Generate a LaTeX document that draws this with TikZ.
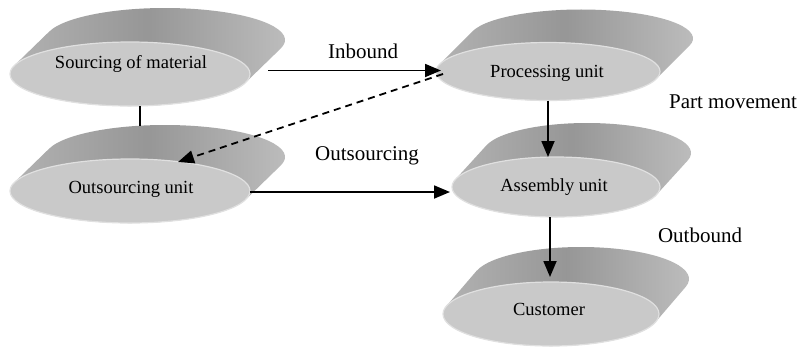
\documentclass[tikz,border=0pt]{standalone}
\usepackage{fontspec}
\setmainfont{Liberation Serif}
\usetikzlibrary{arrows.meta}
\tikzset{
  diskside/.style={left color=black!29, right color=black!25, middle color=black!41},
  diskfront/.style={fill=black!21, draw=black!12, line width=1.2bp},
  unittext/.style={font=\fontsize{18.5bp}{22bp}\selectfont, anchor=base, inner sep=0pt},
  flowlabel/.style={font=\fontsize{21bp}{25bp}\selectfont, anchor=base, inner sep=0pt},
  flow/.style={line width=1.8bp, -{Triangle[length=16bp,width=13bp]}},
  link/.style={line width=1.8bp},
  dashflow/.style={flow, dash pattern=on 7bp off 5bp},
}
% #1 name, #2 cx, #3 cy, #4 rx, #5 ry, #6 dx, #7 dy (image coordinates)
\newcommand{\diskunit}[7]{%
  \pgfmathsetmacro{\tang}{atan(#5*#6/(#4*abs(#7)))}%
  \shade[diskside]
    ({#2+#6+#4*cos(180+\tang)},{#3+#7+#5*sin(180+\tang)})
    arc[start angle={180+\tang}, end angle={360+\tang}, x radius=#4, y radius=#5]
    -- ({#2+#4*cos(\tang)},{#3+#5*sin(\tang)})
    arc[start angle={\tang}, end angle={180+\tang}, x radius=#4, y radius=#5]
    -- cycle;
  \path[diskfront] (#2,#3) ellipse[x radius=#4, y radius=#5];
  \coordinate (#1-c) at (#2,#3);
}
\begin{document}
\begin{tikzpicture}[x=1bp, y=-1bp]
\useasboundingbox (0,0) rectangle (798,350);
\fill[white] (0,0) rectangle (798,350);

\diskunit{src}{130}{74}{120}{32}{35}{-34}
\diskunit{out}{130}{191}{120}{32}{35}{-34}
\diskunit{proc}{548}{71.5}{112}{29}{33}{-33}
\diskunit{asm}{556}{187}{104}{30}{31}{-34}
\diskunit{cust}{551}{314}{108}{32}{30}{-35}

\node[unittext] (srct) at (131,68) {Sourcing of material};
\node[unittext] (outt) at (131,193) {Outsourcing unit};
\node[unittext] (proct) at (547,77) {Processing unit};
\node[unittext] (asmt) at (554,191) {Assembly unit};
\node[unittext] (custt) at (549,315) {Customer};

\node[flowlabel] (lin) at (363,58) {Inbound};
\node[flowlabel] (lout) at (367,160) {Outsourcing};
\node[flowlabel] (lpart) at (733,108) {Part movement};
\node[flowlabel] (lob) at (700,242) {Outbound};

\coordinate (src-r) at (268,70.5);
\coordinate (proc-l) at (441,70.5);
\coordinate (proc-dl) at (443,74);
\coordinate (out-t) at (178,162);
\coordinate (src-b) at (140,106);
\coordinate (out-bt) at (140,126);
\coordinate (out-r) at (250,192);
\coordinate (asm-l) at (450,192);
\coordinate (proc-b) at (548,100.5);
\coordinate (asm-t) at (548,157);
\coordinate (asm-b) at (550,217);
\coordinate (cust-t) at (550,277);

\draw[flow] (src-r) -- (proc-l);
\draw[dashflow] (proc-dl) -- (out-t);
\draw[link] (src-b) -- (out-bt);
\draw[flow] (out-r) -- (asm-l);
\draw[flow] (proc-b) -- (asm-t);
\draw[flow] (asm-b) -- (cust-t);
\end{tikzpicture}
\end{document}
